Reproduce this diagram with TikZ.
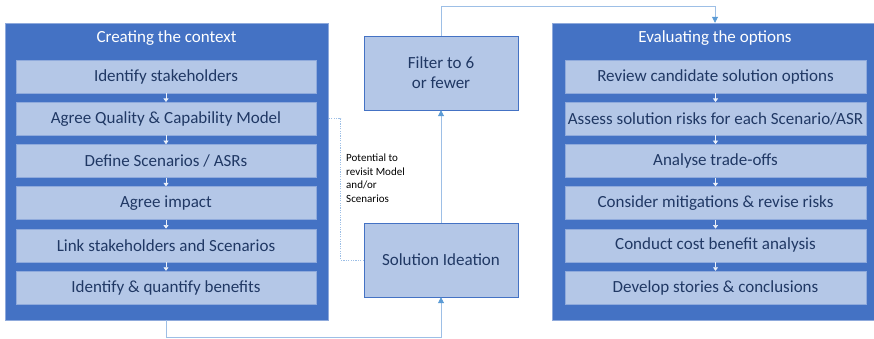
\documentclass[tikz,border=0pt]{standalone}
\usepackage{fontspec}
\setmainfont{Carlito}
\usepackage{xcolor}
\usepackage{tikz}
\usetikzlibrary{arrows.meta,positioning}
\definecolor{darkblue}{HTML}{4472C4}
\definecolor{paleblue}{HTML}{B4C7E7}
\definecolor{edgeblue}{HTML}{8FAADC}
\definecolor{navy}{HTML}{203864}
\definecolor{linkblue}{HTML}{9DBFE6}
\definecolor{tipblue}{HTML}{5B9BD5}

\begin{document}
\begin{tikzpicture}[x=1pt, y=-1pt, font=\fontsize{17pt}{20pt}\selectfont, phase/.style={draw=edgeblue, fill=darkblue, inner sep=0pt, minimum height=297pt}, head/.style={text=white, inner sep=0pt}, stepbox/.style={draw=edgeblue, fill=paleblue, text=navy, inner sep=0pt, minimum width=300pt, minimum height=33pt}, midbox/.style={draw=darkblue, fill=paleblue, text=navy, align=center, inner sep=0pt, minimum width=154pt, minimum height=74pt}, flow/.style={draw=white!75!paleblue, line width=0.6pt, -{Triangle[length=3.5pt, width=5pt]}}, link/.style={draw=linkblue, line width=0.8pt, -{Triangle[length=6pt, width=6pt, color=tipblue]}}, revisit/.style={draw=linkblue, line width=0.8pt, dash pattern=on 1.2pt off 1.2pt}]
\useasboundingbox (0,0) rectangle (874,339);
% the two phases
\node[phase, minimum width=323pt] (ctx) at (166.5,171.5) {};
\node[phase, minimum width=326pt] (eval) at (715,171.5) {};
\node[head] (ctxhead) at (166.5,38) {Creating the context};
\node[head] (evalhead) at (715,38) {Evaluating the options};
% creating the context
\node[stepbox] (ids) at (166,76.5) {Identify stakeholders};
\node[stepbox, below=8.8pt of ids] (aqc) {Agree Quality \& Capability Model};
\node[stepbox, below=8.8pt of aqc] (dsa) {Define Scenarios / ASRs};
\node[stepbox, below=8.8pt of dsa] (aim) {Agree impact};
\node[stepbox, below=8.8pt of aim] (lss) {Link stakeholders and Scenarios};
\node[stepbox, below=8.8pt of lss] (iqb) {Identify \& quantify benefits};
\draw[flow] (ids) -- (aqc);
\draw[flow] (aqc) -- (dsa);
\draw[flow] (dsa) -- (aim);
\draw[flow] (aim) -- (lss);
\draw[flow] (lss) -- (iqb);
% evaluating the options
\node[stepbox, minimum width=301pt] (rco) at (715.5,76.5) {Review candidate solution options};
\node[stepbox, minimum width=301pt, below=8.8pt of rco] (asr) {Assess solution risks for each Scenario/ASR};
\node[stepbox, minimum width=301pt, below=8.8pt of asr] (ato) {Analyse trade-offs};
\node[stepbox, minimum width=301pt, below=8.8pt of ato] (cmr) {Consider mitigations \& revise risks};
\node[stepbox, minimum width=301pt, below=8.8pt of cmr] (cba) {Conduct cost benefit analysis};
\node[stepbox, minimum width=301pt, below=8.8pt of cba] (dsc) {Develop stories \& conclusions};
\draw[flow] (rco) -- (asr);
\draw[flow] (asr) -- (ato);
\draw[flow] (ato) -- (cmr);
\draw[flow] (cmr) -- (cba);
\draw[flow] (cba) -- (dsc);
% middle
\node[midbox] (filter) at (441,73) {Filter to 6\\or fewer};
\node[midbox] (ideation) at (441,260) {Solution Ideation};
\node[anchor=north west, inner sep=0pt, align=left, font=\fontsize{11pt}{13.5pt}\selectfont] (note) at (346,154) {Potential to\\revisit Model\\and/or\\Scenarios};
\draw[link] (ctx.south) -- ++(0,17) -| (ideation.south);
\draw[link] (ideation) -- (filter);
\draw[link] (filter.north) -- ++(0,-29) -| (eval.north);
\draw[revisit] (ideation.west) -- ++(-23,0) |- (aqc.east -| ctx.east);
\end{tikzpicture}
\end{document}
